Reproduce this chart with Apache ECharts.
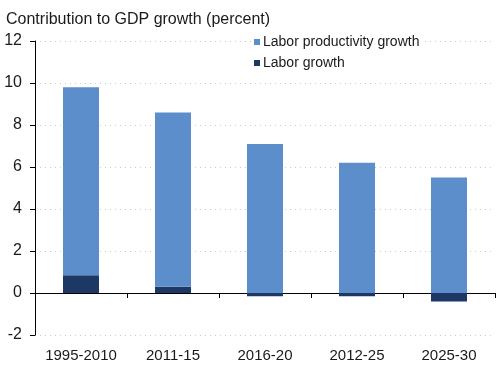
<!DOCTYPE html>
<html><head><meta charset="utf-8">
<script src="https://cdn.jsdelivr.net/npm/echarts@6/dist/echarts.min.js"></script>
<style>html,body{margin:0;padding:0;background:#fff}#c{width:500px;height:368px}</style>
</head><body><div id="c"></div>
<script>
const categories = ["1995-2010", "2011-15", "2016-20", "2012-25", "2025-30"];
const laborGrowth = [0.85, 0.3, -0.15, -0.15, -0.4];
const laborProductivity = [8.95, 8.3, 7.1, 6.2, 5.5];
const yTicks = [-2, 0, 2, 4, 6, 8, 10, 12];

const chart = echarts.init(document.getElementById('c'), null, {renderer: 'canvas'});
const font = '"Liberation Sans", Arial, sans-serif';
chart.setOption({
  animation: false,
  backgroundColor: '#fff',
  title: {
    text: 'Contribution to GDP growth (percent)',
    left: 1, top: 7,
    textStyle: {fontFamily: font, fontSize: 16, fontWeight: 'normal', color: '#1a1a1a'}
  },
  legend: {
    orient: 'vertical',
    left: 252, top: 35,
    itemWidth: 6, itemHeight: 6, itemGap: 7,
    backgroundColor: '#fff',
    padding: [0, 2, 0, 2],
    data: ['Labor productivity growth', 'Labor growth'],
    textStyle: {fontFamily: font, fontSize: 14, color: '#1a1a1a', padding: [0, 0, 0, -2]},
    icon: 'rect'
  },
  grid: {left: 35, right: 5, top: 41, bottom: 33},
  xAxis: [{
    type: 'category', data: categories, position: 'bottom',
    axisLine: {onZero: true, lineStyle: {color: '#000', width: 1}},
    axisTick: {show: true, length: 5, lineStyle: {color: '#000'}},
    axisLabel: {show: false}
  }, {
    type: 'category', data: categories, position: 'bottom',
    axisLine: {show: false, onZero: false}, axisTick: {show: false},
    axisLabel: {fontFamily: font, fontSize: 15, color: '#1a1a1a', margin: 13, interval: 0}
  }],
  yAxis: {
    type: 'value', min: yTicks[0], max: yTicks[yTicks.length - 1], interval: 2,
    axisLine: {show: true, lineStyle: {color: '#000'}},
    axisTick: {show: true, length: 5, lineStyle: {color: '#000'}},
    axisLabel: {fontFamily: font, fontSize: 16, color: '#1a1a1a', margin: 13},
    splitLine: {show: true, lineStyle: {color: '#c8ccd4', type: [1, 4], width: 1}}
  },
  series: [{
    name: 'Labor growth', type: 'bar', stack: 'a', data: laborGrowth,
    barWidth: 36, itemStyle: {color: '#1d3864'}
  }, {
    name: 'Labor productivity growth', type: 'bar', stack: 'a', data: laborProductivity,
    barWidth: 36, itemStyle: {color: '#5b8ecb'}
  }]
});
</script></body></html>
